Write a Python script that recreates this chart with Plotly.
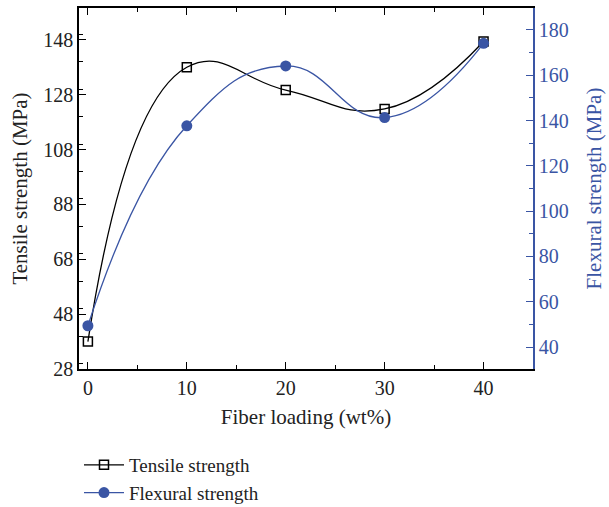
import plotly.graph_objects as go

fiber_loading = [0, 10, 20, 30, 40]
tensile_strength = [38, 138, 129.7, 122.8, 147.4]
flexural_strength = [49.4, 137.7, 164.1, 141.3, 174.1]

BLUE = "#3a55a4"
FONT = "Liberation Serif"
H = 507
TOP, BOTTOM = 8, 369

fig = go.Figure()
fig.add_trace(go.Scatter(
    x=fiber_loading, y=tensile_strength, name="Tensile strength",
    mode="lines+markers",
    line=dict(color="black", width=1.3, shape="spline", smoothing=1.3),
    marker=dict(symbol="square-open", size=9, color="black", line=dict(width=1.5)),
    yaxis="y",
))
fig.add_trace(go.Scatter(
    x=fiber_loading, y=flexural_strength, name="Flexural strength",
    mode="lines+markers",
    line=dict(color=BLUE, width=1.3, shape="spline", smoothing=1.3),
    marker=dict(symbol="circle", size=11, color=BLUE),
    yaxis="y2",
))

fig.update_layout(
    width=609, height=H,
    margin=dict(l=79, r=76, t=0, b=0, autoexpand=False),
    plot_bgcolor="white", paper_bgcolor="white",
    font=dict(family=FONT, size=20, color="#222"),
    showlegend=True,
    legend=dict(x=0.0, y=(H - 446) / H, xanchor="left", yanchor="top",
                font=dict(family=FONT, size=19, color="#222"),
                itemwidth=40, tracegroupgap=0, bgcolor="rgba(0,0,0,0)"),
    xaxis=dict(
        range=[-0.9, 45], tickmode="linear", tick0=0, dtick=10,
        ticks="inside", ticklen=7, tickcolor="black", tickwidth=1.2,
        minor=dict(ticks="inside", ticklen=4, dtick=5, tickcolor="black"),
        showline=True, linecolor="black", linewidth=1.5, mirror="ticks",
        showgrid=False, zeroline=False, automargin=False,
        title=dict(text="Fiber loading (wt%)", font=dict(size=21), standoff=12),
        tickfont=dict(size=20, color="#222"),
    ),
    yaxis=dict(
        domain=[(H - BOTTOM) / H, (H - TOP) / H],
        range=[28, 159.6], tickmode="linear", tick0=28, dtick=20,
        ticks="inside", ticklen=7, tickcolor="black", tickwidth=1.2,
        minor=dict(ticks="inside", ticklen=4, dtick=10, tickcolor="black"),
        showline=True, linecolor="black", linewidth=1.5,
        showgrid=False, zeroline=False, automargin=False,
        title=dict(text="Tensile strength (MPa)", font=dict(size=21), standoff=10),
        tickfont=dict(size=20, color="#222"),
    ),
    yaxis2=dict(
        overlaying="y", side="right",
        range=[30.3, 189.7], tickmode="linear", tick0=40, dtick=20,
        ticks="inside", ticklen=7, tickcolor=BLUE, tickwidth=1.2,
        minor=dict(ticks="inside", ticklen=4, dtick=10, tickcolor=BLUE),
        showline=True, linecolor=BLUE, linewidth=1.5,
        showgrid=False, zeroline=False, automargin=False,
        title=dict(text="Flexural strength (MPa)", font=dict(size=21, color=BLUE), standoff=19),
        tickfont=dict(size=20, color=BLUE),
    ),
)

fig.write_html("out.html")
